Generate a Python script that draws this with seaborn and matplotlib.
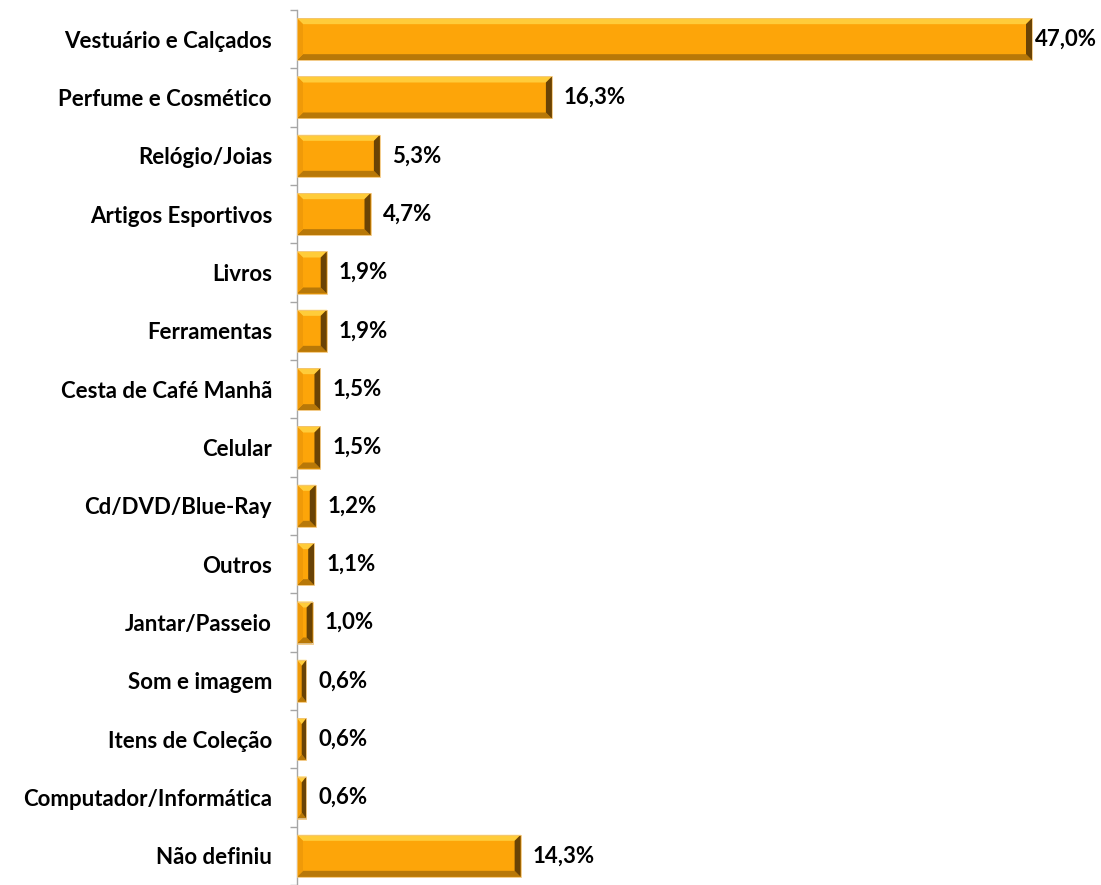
import matplotlib
matplotlib.use("Agg")
import matplotlib.pyplot as plt
from matplotlib.patches import Polygon
from matplotlib.ticker import FixedLocator
import seaborn as sns
import pandas as pd

categories = [
    "Vestuário e Calçados", "Perfume e Cosmético", "Relógio/Joias",
    "Artigos Esportivos", "Livros", "Ferramentas", "Cesta de Café Manhã",
    "Celular", "Cd/DVD/Blue-Ray", "Outros", "Jantar/Passeio",
    "Som e imagem", "Itens de Coleção", "Computador/Informática", "Não definiu",
]
values = [47.0, 16.3, 5.3, 4.7, 1.9, 1.9, 1.5, 1.5, 1.2, 1.1, 1.0, 0.6, 0.6, 0.6, 14.3]
value_labels = ["47,0%", "16,3%", "5,3%", "4,7%", "1,9%", "1,9%", "1,5%", "1,5%",
                "1,2%", "1,1%", "1,0%", "0,6%", "0,6%", "0,6%", "14,3%"]

df = pd.DataFrame({"categoria": categories, "valor": values})

sns.set_style("white")
plt.rcParams["font.family"] = ["Lato", "DejaVu Sans"]

W, H = 1101, 885
fig = plt.figure(figsize=(W / 100, H / 100), dpi=100)
ax_left, ax_top = 297, 10
ax = fig.add_axes([ax_left / W, 0, (W - ax_left) / W, (H - ax_top) / H])

base = "#FDA509"
sns.barplot(data=df, x="valor", y="categoria", orient="h", color=base,
            saturation=1, width=0.72, edgecolor="none", ax=ax)

xmax = (W - ax_left) / (735 / 47.0)
ax.set_xlim(0, xmax)
ax.set_ylim(len(categories) - 0.5, -0.5)

# bevelled look on each bar
px_x = (W - ax_left) / xmax
px_y = (H - ax_top) / len(categories)
bev = 6.0
for p in ax.patches[:len(categories)]:
    x0, y0 = p.get_x(), p.get_y()
    w, h = p.get_width(), p.get_height()
    x1, y1 = x0 + w, y0 + h
    dx = min(bev / px_x, w / 2)
    dy = bev / px_y
    top = [(x0, y0), (x1, y0), (x1 - dx, y0 + dy), (x0 + dx, y0 + dy)]
    bottom = [(x0, y1), (x1, y1), (x1 - dx, y1 - dy), (x0 + dx, y1 - dy)]
    left = [(x0, y0), (x0 + dx, y0 + dy), (x0 + dx, y1 - dy), (x0, y1)]
    right = [(x1, y0), (x1 - dx, y0 + dy), (x1 - dx, y1 - dy), (x1, y1)]
    for pts, col in [(top, "#FFCC3A"), (bottom, "#B87808"),
                     (left, "#F09A08"), (right, "#6A4305")]:
        ax.add_patch(Polygon(pts, closed=True, facecolor=col,
                             edgecolor="none", zorder=3))
    ax.add_patch(Polygon([(x0, y0), (x1, y0), (x1, y1), (x0, y1)], closed=True,
                         facecolor="none", edgecolor="#F2C57A", lw=0.6, zorder=4))

# value labels
for i, (v, lab) in enumerate(zip(values, value_labels)):
    pad = 3 if v == max(values) else 12
    ax.annotate(lab, xy=(v, i), xytext=(pad * 0.72, 0), textcoords="offset points",
                ha="left", va="center", fontsize=16, fontweight="bold", color="black")

ax.set_xlabel("")
ax.set_ylabel("")
ax.set_xticks([])
sns.despine(ax=ax, top=True, right=True, bottom=True, left=False)
ax.spines["left"].set_color("#A6A6A6")
ax.spines["left"].set_linewidth(1.0)

ax.tick_params(axis="y", which="major", length=0, pad=18, labelsize=16,
               labelcolor="black")
for t in ax.get_yticklabels():
    t.set_fontweight("bold")
ax.yaxis.set_minor_locator(FixedLocator([i + 0.5 for i in range(-1, len(categories))]))
ax.tick_params(axis="y", which="minor", length=5, width=1.0, color="#A6A6A6", left=True)

fig.savefig("out.png", dpi=100)
